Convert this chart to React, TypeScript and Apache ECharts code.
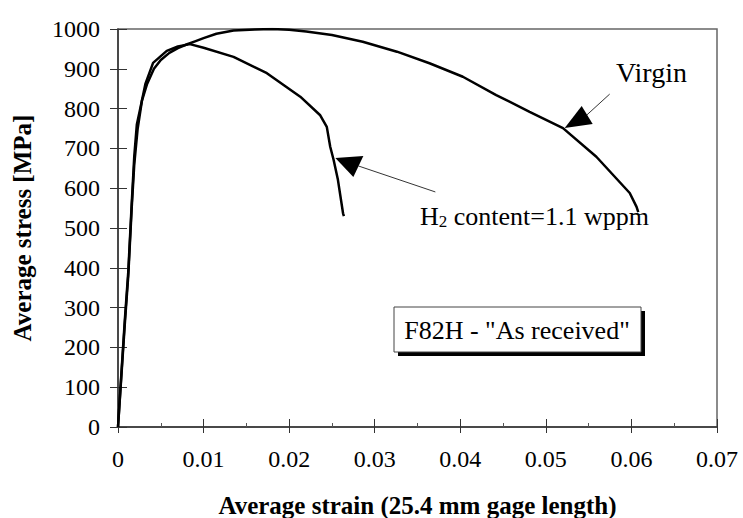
import React, { useEffect, useRef } from "react";
import * as echarts from "echarts";

// Virgin specimen: [strain, stress MPa]
const virginStrain = [0, 0.0004, 0.0008, 0.0012, 0.0016, 0.0019, 0.0023, 0.0028, 0.0034, 0.0042, 0.005, 0.006, 0.007, 0.008, 0.009, 0.010, 0.0115, 0.0135, 0.016, 0.018, 0.020, 0.022, 0.025, 0.0286, 0.0326, 0.0364, 0.0403, 0.0442, 0.0481, 0.052, 0.0559, 0.0598, 0.0606, 0.0608];
const virginStress = [0, 130, 260, 380, 550, 660, 750, 820, 862, 900, 922, 940, 952, 961, 969, 977, 988, 996, 999, 1000, 998, 994, 985, 968, 943, 914, 880, 834, 792, 751, 679, 588, 553, 540];

// H2 content = 1.1 wppm: [strain, stress MPa]
const h2Strain = [0, 0.0004, 0.0008, 0.0012, 0.0016, 0.0019, 0.0022, 0.0026, 0.0032, 0.0041, 0.0057, 0.007, 0.0084, 0.010, 0.0135, 0.0174, 0.0213, 0.0236, 0.0244, 0.0248, 0.0252, 0.0257, 0.0263, 0.0264];
const h2Stress = [0, 136, 270, 390, 560, 680, 760, 800, 862, 915, 945, 956, 962, 953, 930, 889, 830, 784, 754, 704, 671, 621, 537, 530];

const xTicks = [0, 0.07, 0.01];
const yTicks = [0, 1000, 100];

const serif = "'Liberation Serif', 'Times New Roman', serif";

export default function App() {
  const ref = useRef<HTMLDivElement>(null);
  useEffect(() => {
    document.body.style.margin = "0";
    const chart = echarts.init(ref.current!, null, { renderer: "svg" });
    const virgin = virginStrain.map((x, i) => [x, virginStress[i]]);
    const h2 = h2Strain.map((x, i) => [x, h2Stress[i]]);
    const labelStyle = { fontFamily: serif, fontSize: 24, color: "#000" };
    chart.setOption({
      animation: false,
      backgroundColor: "#fff",
      grid: { left: 118, top: 29, right: 26, bottom: 91, show: true, borderColor: "#666", borderWidth: 1.5, containLabel: false, outerBoundsMode: "none" },
      xAxis: [
        {
          type: "value", min: xTicks[0], max: xTicks[1], interval: xTicks[2],
          axisLine: { show: true, onZero: false, lineStyle: { color: "#333", width: 1.5 } },
          axisTick: { show: true, inside: false, length: 6, lineStyle: { color: "#333" } },
          splitLine: { show: false },
          axisLabel: { ...labelStyle, margin: 20, formatter: (v: number) => String(+v.toFixed(2)) },
          name: "Average strain (25.4 mm gage length)", nameLocation: "middle", nameGap: 66,
          nameTextStyle: { fontFamily: serif, fontSize: 25, fontWeight: "bold", color: "#000" },
        },
        {
          type: "value", min: xTicks[0], max: xTicks[1], interval: xTicks[2], position: "bottom",
          axisLine: { show: false }, axisLabel: { show: false }, splitLine: { show: false },
          axisTick: { show: true, inside: true, length: 8, lineStyle: { color: "#333" } },
          minorTick: { show: true, splitNumber: 2, length: 4, lineStyle: { color: "#555" } },
        },
      ],
      yAxis: [
        {
          type: "value", min: yTicks[0], max: yTicks[1], interval: yTicks[2],
          axisLine: { show: true, onZero: false, lineStyle: { color: "#333", width: 1.5 } },
          axisTick: { show: true, inside: false, length: 8, lineStyle: { color: "#333" } },
          splitLine: { show: false },
          axisLabel: { ...labelStyle, margin: 18, formatter: (v: number) => String(v) },
          name: "Average stress [MPa]", nameLocation: "middle", nameGap: 83,
          nameTextStyle: { fontFamily: serif, fontSize: 25, fontWeight: "bold", color: "#000" },
        },
        {
          type: "value", min: yTicks[0], max: yTicks[1], interval: yTicks[2], position: "left",
          axisLine: { show: false }, axisLabel: { show: false }, splitLine: { show: false },
          axisTick: { show: true, inside: true, length: 9, lineStyle: { color: "#333" } },
        },
      ],
      series: [
        { name: "Virgin", type: "line", data: virgin, showSymbol: false, symbol: "none", lineStyle: { color: "#000", width: 2.5 } },
        { name: "H2", type: "line", data: h2, showSymbol: false, symbol: "none", lineStyle: { color: "#000", width: 2.5 } },
      ],
    });

    const p = (x: number, y: number) => chart.convertToPixel({ gridIndex: 0 }, [x, y]) as number[];
    const vt = p(0.0522, 751);
    const ht = p(0.0254, 676);
    chart.setOption({
      graphic: [
        { type: "polygon", shape: { points: [vt, [vt[0] + 17, vt[1] - 22], [vt[0] + 28, vt[1] - 4]] }, style: { fill: "#000" } },
        { type: "line", shape: { x1: vt[0] + 22, y1: vt[1] - 13, x2: vt[0] + 45, y2: vt[1] - 34 }, style: { stroke: "#000", lineWidth: 0.8 } },
        { type: "text", x: 616, y: 58, style: { text: "Virgin", fontFamily: serif, fontSize: 28, fill: "#000" } },
        { type: "polygon", shape: { points: [ht, [ht[0] + 28, ht[1] - 2], [ht[0] + 18, ht[1] + 19]] }, style: { fill: "#000" } },
        { type: "line", shape: { x1: ht[0] + 23, y1: ht[1] + 8, x2: ht[0] + 100, y2: ht[1] + 34 }, style: { stroke: "#000", lineWidth: 0.8 } },
        {
          type: "text", x: 420, y: 203,
          style: {
            text: "{a|H}{s|2}{a| content=1.1 wppm}", fontFamily: serif, fill: "#000",
            rich: { a: { fontFamily: serif, fontSize: 26, color: "#000" }, s: { fontFamily: serif, fontSize: 17, color: "#000", padding: [10, 0, 0, 0] } },
          },
        },
        { type: "rect", shape: { x: 398, y: 311, width: 247, height: 45 }, style: { fill: "#000" } },
        { type: "rect", shape: { x: 394, y: 307, width: 247, height: 45 }, style: { fill: "#fff", stroke: "#444", lineWidth: 1 } },
        { type: "text", x: 517, y: 330, style: { text: "F82H - \"As received\"", fontFamily: serif, fontSize: 26, fill: "#000", align: "center", verticalAlign: "middle" } },
      ],
    });
    return () => chart.dispose();
  }, []);
  return <div ref={ref} style={{ width: 743, height: 518 }} />;
}
